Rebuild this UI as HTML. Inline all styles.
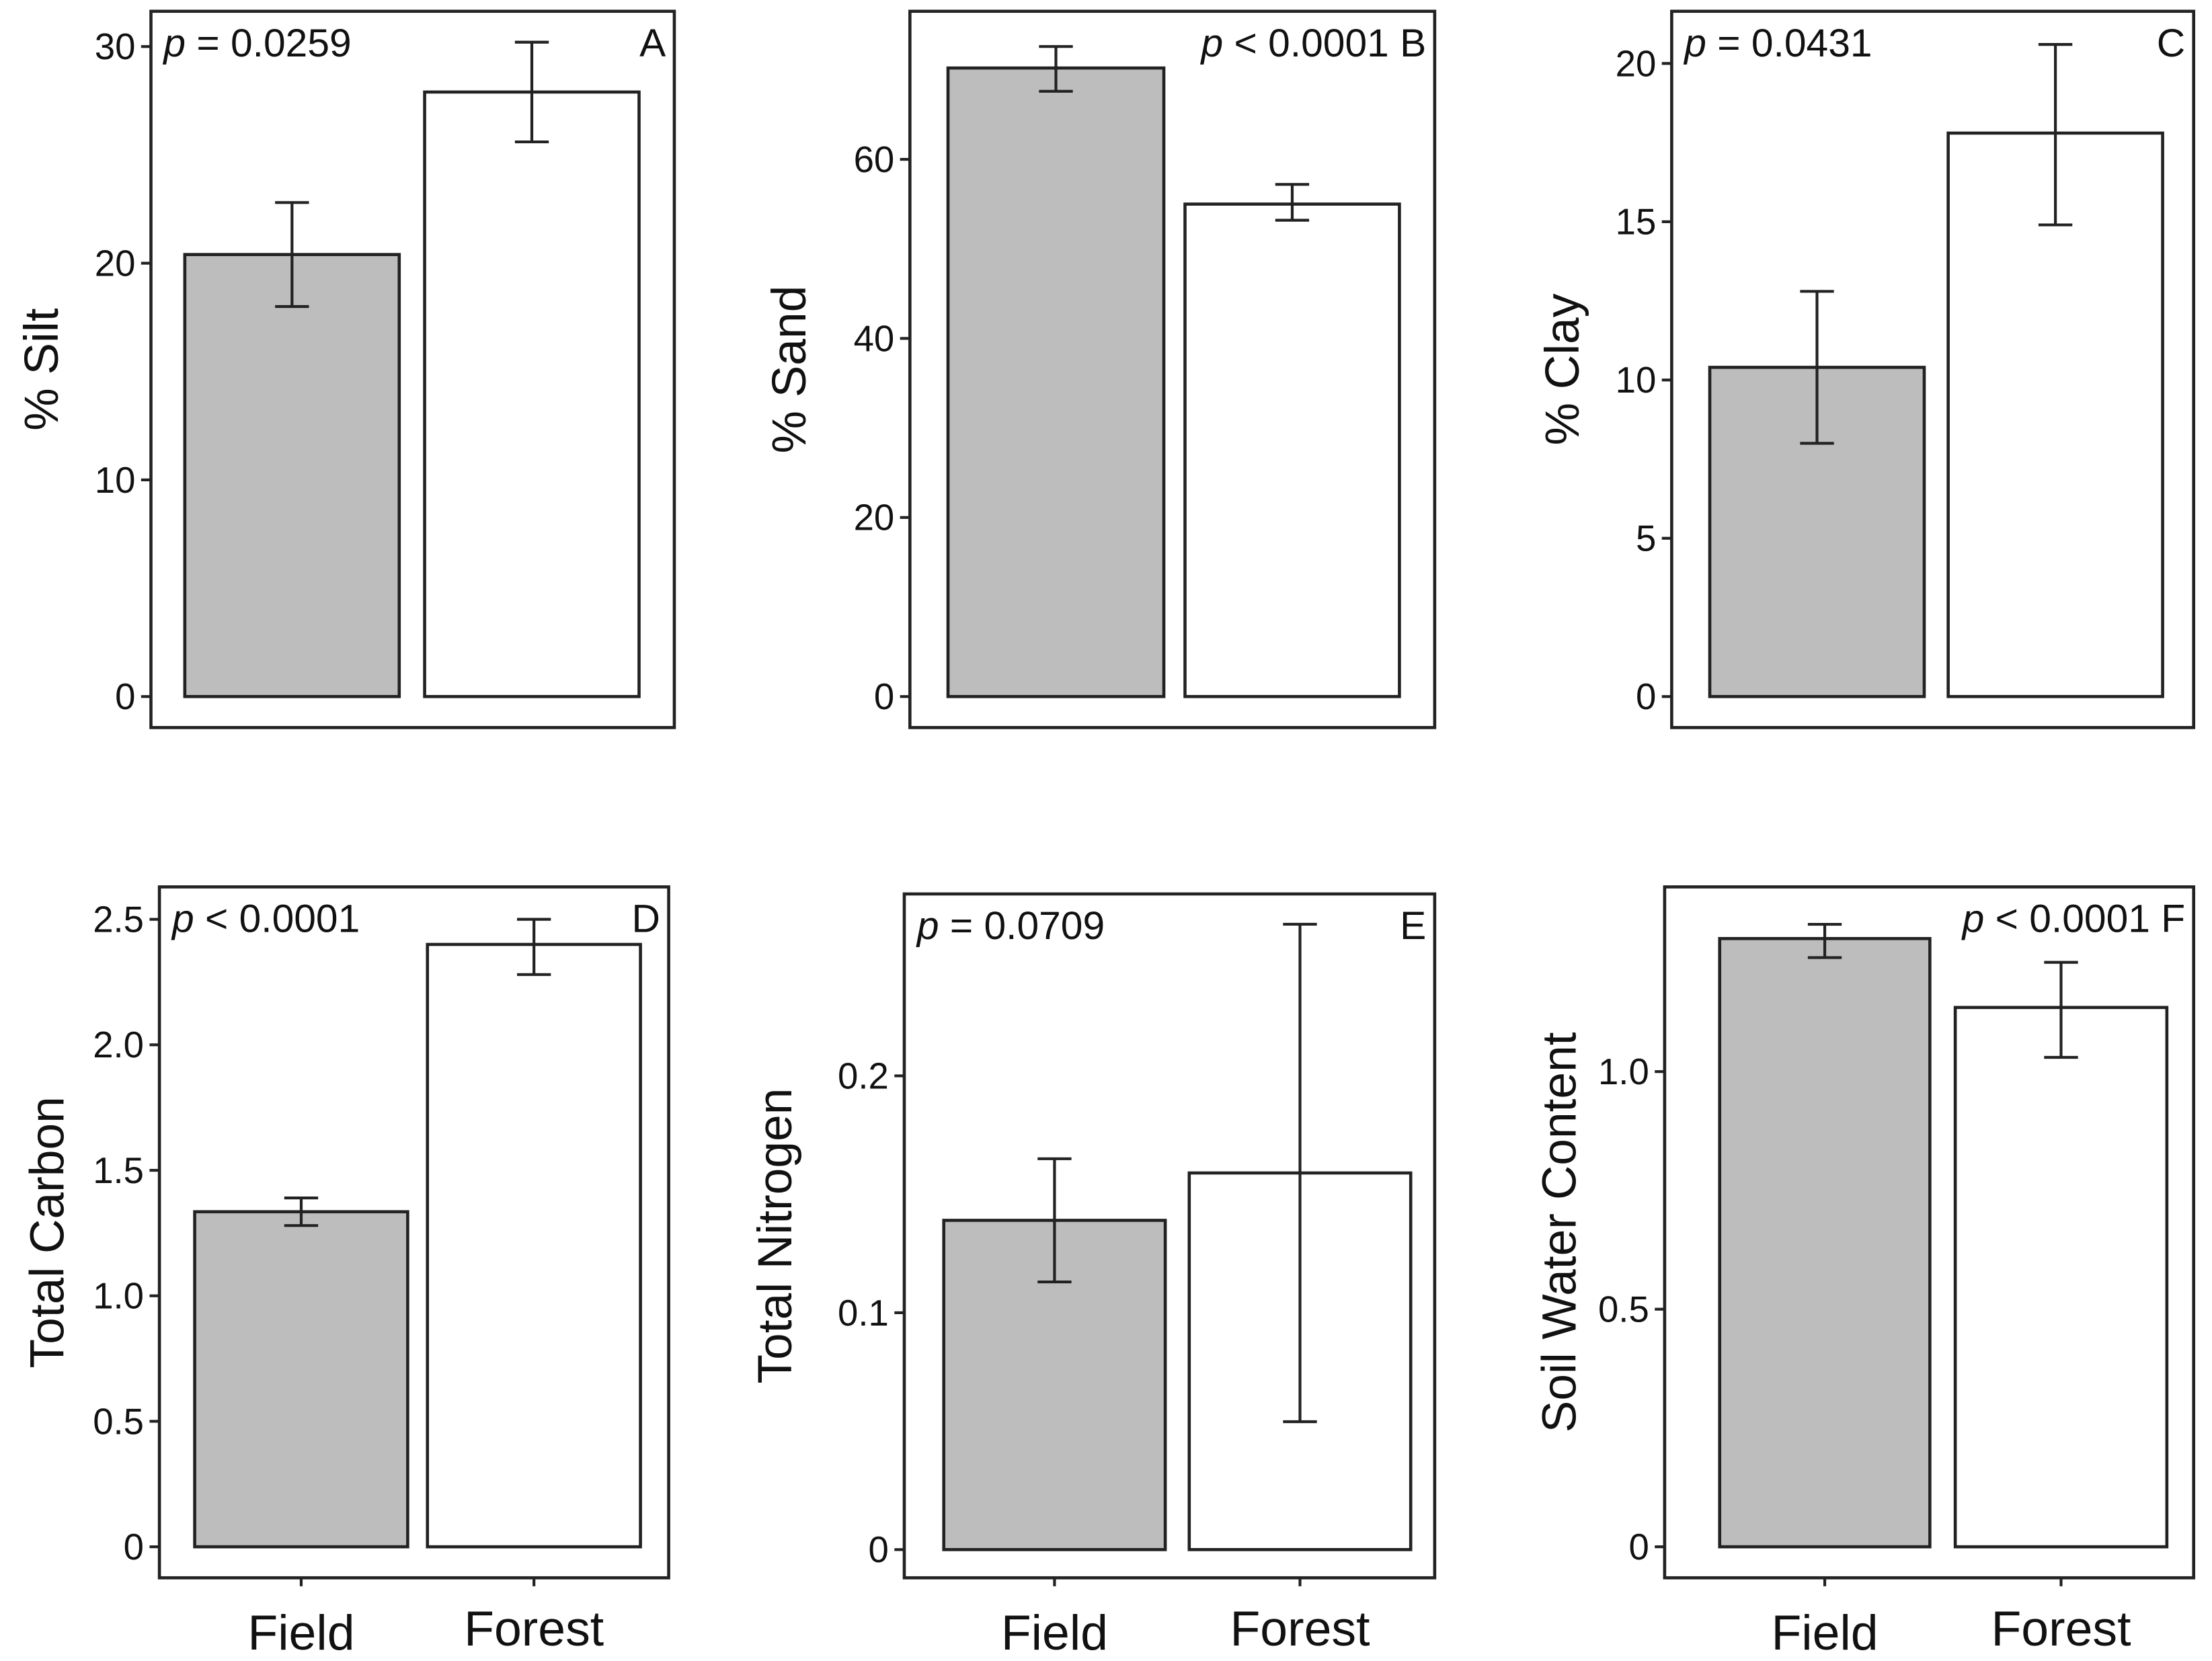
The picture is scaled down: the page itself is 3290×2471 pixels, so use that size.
<!DOCTYPE html>
<html><head><meta charset="utf-8"><style>
html,body{margin:0;padding:0;background:#fff}
svg{display:block}
text{font-family:"Liberation Sans",Arial,sans-serif;fill:#111}
</style></head><body>
<svg id="chart" width="3290" height="2471" viewBox="0 0 1568 1178" preserveAspectRatio="none" xmlns="http://www.w3.org/2000/svg"></svg>
<script>
const categories = ["Field", "Forest"];
const panelLetters = ["A","B","C","D","E","F"];
const yTitles = ["% Silt","% Sand","% Clay","Total Carbon","Total Nitrogen","Soil Water Content"];
const pTexts = ["= 0.0259","< 0.0001","= 0.0431","< 0.0001","= 0.0709","< 0.0001"];
const siltValues = [20.4, 27.9];
const siltErrLow = [18.0, 25.6];
const siltErrHigh = [22.8, 30.2];
const sandValues = [70.2, 55.0];
const sandErrLow = [67.6, 53.2];
const sandErrHigh = [72.6, 57.2];
const clayValues = [10.4, 17.8];
const clayErrLow = [8.0, 14.9];
const clayErrHigh = [12.8, 20.6];
const carbonValues = [1.335, 2.40];
const carbonErrLow = [1.28, 2.28];
const carbonErrHigh = [1.39, 2.50];
const nitrogenValues = [0.139, 0.159];
const nitrogenErrLow = [0.113, 0.054];
const nitrogenErrHigh = [0.165, 0.264];
const waterValues = [1.28, 1.135];
const waterErrLow = [1.24, 1.03];
const waterErrHigh = [1.31, 1.23];
const siltTicks = [0,10,20,30];
const sandTicks = [0,20,40,60];
const clayTicks = [0,5,10,15,20];
const carbonTicks = [0,0.5,1.0,1.5,2.0,2.5];
const nitrogenTicks = [0,0.1,0.2];
const waterTicks = [0,0.5,1.0];
const tickLabelsFmt = [v=>String(v), v=>String(v), v=>String(v), v=>v===0?"0":v.toFixed(1), v=>v===0?"0":v.toFixed(1), v=>v===0?"0":v.toFixed(1)];

const data = [
 [siltValues,siltErrLow,siltErrHigh,siltTicks],
 [sandValues,sandErrLow,sandErrHigh,sandTicks],
 [clayValues,clayErrLow,clayErrHigh,clayTicks],
 [carbonValues,carbonErrLow,carbonErrHigh,carbonTicks],
 [nitrogenValues,nitrogenErrLow,nitrogenErrHigh,nitrogenTicks],
 [waterValues,waterErrLow,waterErrHigh,waterTicks]
];
const layout = [
 {bx:107,by:8,bw:371,bh:508,y0:494,rv:30,ry:33,bars:[[131,283],[301,453]],pRight:false,ylx:30},
 {bx:645,by:8,bw:372,bh:508,y0:494,rv:60,ry:113,bars:[[672,825],[840,992]],pRight:true,ylx:560},
 {bx:1185,by:8,bw:370,bh:508,y0:494,rv:20,ry:45,bars:[[1212,1364],[1381,1533]],pRight:false,ylx:1108},
 {bx:113,by:629,bw:361,bh:490,y0:1097,rv:2.5,ry:652,bars:[[138,289],[303,454]],pRight:false,ylx:34},
 {bx:641,by:634,bw:376,bh:485,y0:1099,rv:0.2,ry:763,bars:[[669,826],[843,1000]],pRight:false,ylx:550},
 {bx:1180,by:629,bw:375,bh:490,y0:1097,rv:1.0,ry:760,bars:[[1219,1368],[1386,1536]],pRight:true,ylx:1106}
];
const NS="http://www.w3.org/2000/svg";
const svg=document.getElementById('chart');
function mk(tag,attrs,parent){const e=document.createElementNS(NS,tag);for(const k in attrs)e.setAttribute(k,attrs[k]);(parent||svg).appendChild(e);return e;}
const slug=["silt","sand","clay","carbon","nitrogen","water"];
layout.forEach((L,i)=>{
 const [vals,lo,hi,ticks]=data[i];
 const g=mk('g',{});
 
 
 const yS=v=>L.y0-(v/L.rv)*(L.y0-L.ry);
 vals.forEach((v,j)=>{
  const [x1,x2]=L.bars[j];
  const r=mk('rect',{x:x1,y:yS(v),width:x2-x1,height:yS(0)-yS(v),fill:j===0?'#bdbdbd':'#fff',stroke:'#222','stroke-width':2.2},g);
  
  
  const cx=(x1+x2)/2;
  const eb=mk('path',{d:`M${cx},${yS(lo[j])}V${yS(hi[j])}M${cx-12},${yS(lo[j])}H${cx+12}M${cx-12},${yS(hi[j])}H${cx+12}`,stroke:'#222','stroke-width':2,fill:'none'},g);
  
  
 });
 const box=mk('rect',{x:L.bx,y:L.by,width:L.bw,height:L.bh,fill:'none',stroke:'#222','stroke-width':2.2},g);
 
 
 ticks.forEach(t=>{
  mk('line',{x1:L.bx-7,x2:L.bx,y1:yS(t),y2:yS(t),stroke:'#222','stroke-width':2},g);
  const tl=mk('text',{x:L.bx-11,y:yS(t)+9,'text-anchor':'end','font-size':26},g);
  tl.textContent=tickLabelsFmt[i](t);
  
  
 });
 const cy=L.by+L.bh/2;
 const yt=mk('text',{x:L.ylx,y:cy,'text-anchor':'middle','font-size':34,transform:`rotate(-90 ${L.ylx} ${cy})`,dy:11},g);
 yt.textContent=yTitles[i];
 
 
 const pt=mk('text',{'font-size':28,y:L.by+32},g);
 if(L.pRight){pt.setAttribute('x',L.bx+L.bw-6);pt.setAttribute('text-anchor','end');}
 else pt.setAttribute('x',L.bx+9);
 const it=mk('tspan',{'font-style':'italic'},pt);it.textContent='p';
 const rest=mk('tspan',{},pt);rest.textContent=' '+pTexts[i]+(L.pRight?' '+panelLetters[i]:'');
 
 
 if(!L.pRight){
  const lt=mk('text',{x:L.bx+L.bw-6,y:L.by+32,'text-anchor':'end','font-size':28},g);
  lt.textContent=panelLetters[i];
  
  
 }
 if(i>=3){
  categories.forEach((c,j)=>{
   const [x1,x2]=L.bars[j];
   mk('line',{x1:(x1+x2)/2,x2:(x1+x2)/2,y1:L.by+L.bh,y2:L.by+L.bh+6,stroke:'#222','stroke-width':2},g);
   const xl=mk('text',{x:(x1+x2)/2,y:j===0?1170:1167,'text-anchor':'middle','font-size':35},g);
   xl.textContent=c;
   
   
  });
 }
});
</script>
</body></html>
